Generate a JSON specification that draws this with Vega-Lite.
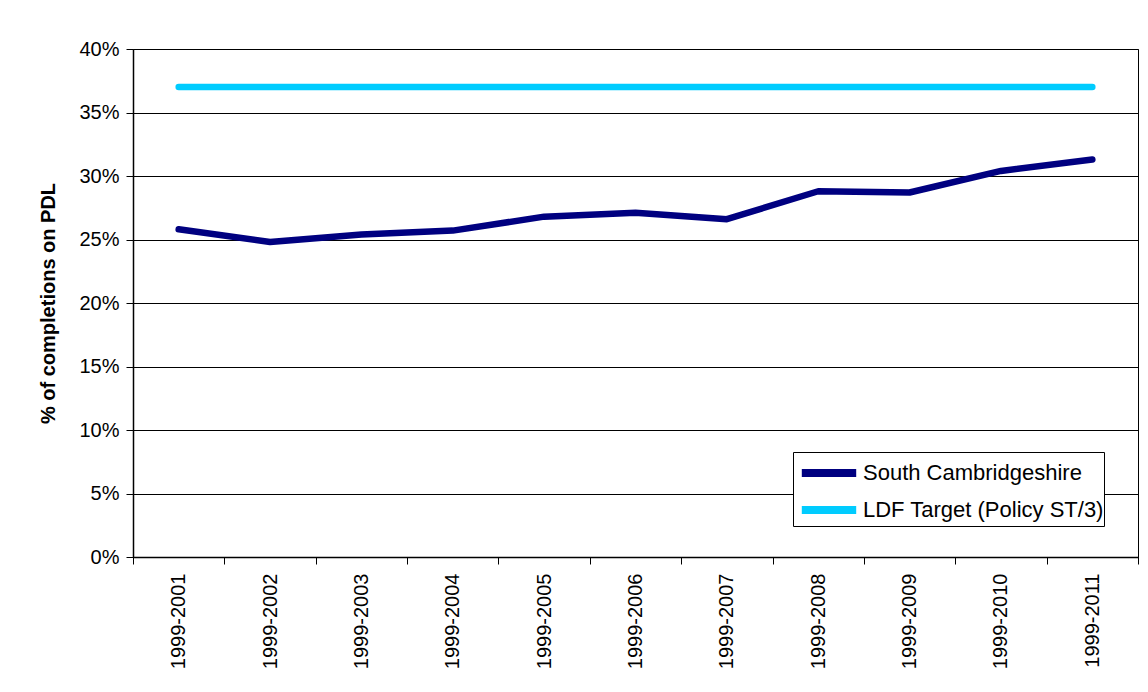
{
  "$schema": "https://vega.github.io/schema/vega-lite/v6.json",
  "width": 1005,
  "height": 508,
  "autosize": {"type": "none"},
  "padding": {"left": 133, "top": 49, "right": 10, "bottom": 135},
  "background": "white",
  "config": {
    "font": "Liberation Sans",
    "view": {"stroke": "black", "strokeWidth": 1}
  },
  "data": {
    "values": [
      {"period": "1999-2001", "series": "South Cambridgeshire", "value": 0.258},
      {"period": "1999-2002", "series": "South Cambridgeshire", "value": 0.248},
      {"period": "1999-2003", "series": "South Cambridgeshire", "value": 0.254},
      {"period": "1999-2004", "series": "South Cambridgeshire", "value": 0.257},
      {"period": "1999-2005", "series": "South Cambridgeshire", "value": 0.268},
      {"period": "1999-2006", "series": "South Cambridgeshire", "value": 0.271},
      {"period": "1999-2007", "series": "South Cambridgeshire", "value": 0.266},
      {"period": "1999-2008", "series": "South Cambridgeshire", "value": 0.288},
      {"period": "1999-2009", "series": "South Cambridgeshire", "value": 0.287},
      {"period": "1999-2010", "series": "South Cambridgeshire", "value": 0.304},
      {"period": "1999-2011", "series": "South Cambridgeshire", "value": 0.313},
      {"period": "1999-2001", "series": "LDF Target (Policy ST/3)", "value": 0.37},
      {"period": "1999-2002", "series": "LDF Target (Policy ST/3)", "value": 0.37},
      {"period": "1999-2003", "series": "LDF Target (Policy ST/3)", "value": 0.37},
      {"period": "1999-2004", "series": "LDF Target (Policy ST/3)", "value": 0.37},
      {"period": "1999-2005", "series": "LDF Target (Policy ST/3)", "value": 0.37},
      {"period": "1999-2006", "series": "LDF Target (Policy ST/3)", "value": 0.37},
      {"period": "1999-2007", "series": "LDF Target (Policy ST/3)", "value": 0.37},
      {"period": "1999-2008", "series": "LDF Target (Policy ST/3)", "value": 0.37},
      {"period": "1999-2009", "series": "LDF Target (Policy ST/3)", "value": 0.37},
      {"period": "1999-2010", "series": "LDF Target (Policy ST/3)", "value": 0.37},
      {"period": "1999-2011", "series": "LDF Target (Policy ST/3)", "value": 0.37}
    ]
  },
  "mark": {"type": "line", "strokeWidth": 6.5, "strokeCap": "round", "strokeJoin": "round"},
  "encoding": {
    "x": {
      "field": "period",
      "type": "nominal",
      "sort": null,
      "scale": {"type": "band", "paddingInner": 0, "paddingOuter": 0},
      "axis": {
        "title": null,
        "labelAngle": -90,
        "labelAlign": "right",
        "labelBaseline": "middle",
        "labelFontSize": 20,
        "labelColor": "black",
        "labelPadding": 9,
        "tickBand": "extent",
        "tickColor": "black",
        "tickSize": 7,
        "domainColor": "black",
        "domainWidth": 1.5,
        "grid": false
      }
    },
    "y": {
      "field": "value",
      "type": "quantitative",
      "scale": {"domain": [0, 0.4], "nice": false},
      "axis": {
        "title": "% of completions on PDL",
        "titleFontSize": 20,
        "titleFontWeight": "bold",
        "titleColor": "black",
        "titlePadding": 20,
        "format": ".0%",
        "values": [0, 0.05, 0.1, 0.15, 0.2, 0.25, 0.3, 0.35, 0.4],
        "labelFontSize": 20,
        "labelColor": "black",
        "labelPadding": 7,
        "tickColor": "black",
        "tickSize": 7,
        "domainColor": "black",
        "domainWidth": 1.5,
        "grid": true,
        "gridColor": "black",
        "gridWidth": 1
      }
    },
    "color": {
      "field": "series",
      "type": "nominal",
      "sort": ["South Cambridgeshire", "LDF Target (Policy ST/3)"],
      "scale": {"domain": ["South Cambridgeshire", "LDF Target (Policy ST/3)"], "range": ["#000080", "#00CCFF"]},
      "legend": {
        "title": null,
        "orient": "none",
        "legendX": 660,
        "legendY": 403,
        "direction": "vertical",
        "symbolType": "M-1.6,0H1.6",
        "symbolStrokeWidth": 8,
        "symbolSize": 1156,
        "symbolOffset": 15,
        "labelFontSize": 22,
        "labelColor": "black",
        "labelLimit": 500,
        "labelOffset": 13,
        "rowPadding": 0,
        "strokeColor": "black",
        "fillColor": "white",
        "padding": 0
      }
    }
  }
}
